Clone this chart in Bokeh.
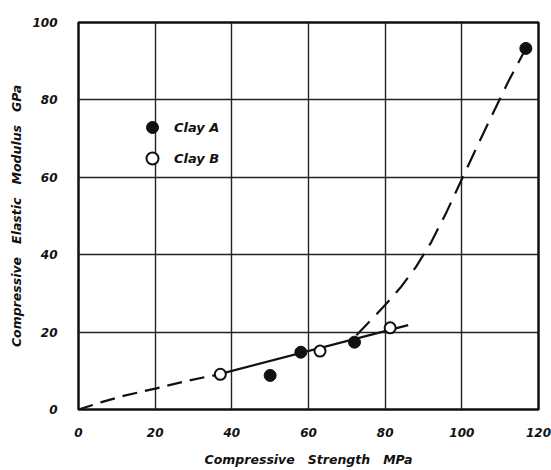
from bokeh.plotting import figure
from bokeh.models import FixedTicker, Range1d, Legend, LegendItem
from bokeh.embed import file_html
from bokeh.resources import INLINE

# ---- data ----
clay_a_x = [50, 58, 72, 116.7]
clay_a_y = [8.8, 14.8, 17.4, 93.3]
clay_b_x = [37, 63, 81.3]
clay_b_y = [9.1, 15.1, 21.1]

solid_x = [35, 86]
solid_y = [8.7, 21.8]

dash_low_x = [0, 6, 12, 20, 28, 35]
dash_low_y = [0, 1.9, 3.6, 5.4, 7.3, 8.8]

dash_up_x = [72.5, 76, 80, 84, 88, 92, 96, 100, 104, 108, 112, 116.7]
dash_up_y = [19.2, 22.8, 27.0, 31.5, 36.8, 43.2, 51.0, 59.5, 68.0, 76.3, 84.5, 93.3]

x_ticks = [0, 20, 40, 60, 80, 100, 120]
y_ticks = [0, 20, 40, 60, 80, 100]

FONT = "DejaVu Sans"
SP = "\u00a0\u00a0\u00a0"

p = figure(width=551, height=470, output_backend="svg", toolbar_location=None,
           x_range=Range1d(0, 120), y_range=Range1d(0, 100),
           min_border_left=78, min_border_right=13, min_border_top=22, min_border_bottom=61)

p.background_fill_color = "white"
p.border_fill_color = "white"
p.outline_line_color = "#111111"
p.outline_line_width = 2.5

for ax, ticks in ((p.xaxis, x_ticks), (p.yaxis, y_ticks)):
    ax.ticker = FixedTicker(ticks=ticks)
    ax.axis_line_color = None
    ax.major_tick_line_color = None
    ax.minor_tick_line_color = None
    ax.major_label_text_font = FONT
    ax.major_label_text_font_style = "bold italic"
    ax.major_label_text_font_size = "12px"
    ax.major_label_text_color = "#111111"
    ax.axis_label_text_font = FONT
    ax.axis_label_text_font_style = "bold italic"
    ax.axis_label_text_font_size = "12.5px"
    ax.axis_label_text_color = "#111111"

p.xaxis.major_label_standoff = 12
p.yaxis.major_label_standoff = 15
p.xaxis.axis_label = "Compressive" + SP + "Strength" + SP + "MPa"
p.yaxis.axis_label = "Compressive" + SP + "Elastic" + SP + "Modulus" + SP + "GPa"
p.xaxis.axis_label_standoff = 12
p.yaxis.axis_label_standoff = 5

p.xgrid.ticker = FixedTicker(ticks=x_ticks)
p.ygrid.ticker = FixedTicker(ticks=y_ticks)
for g in (p.xgrid, p.ygrid):
    g.grid_line_color = "#222222"
    g.grid_line_width = 1.4

# curves
p.line(dash_low_x, dash_low_y, line_color="#111111", line_width=2.2, line_dash="15 8")
p.line(dash_up_x, dash_up_y, line_color="#111111", line_width=2.2, line_dash="19 10")
p.line(solid_x, solid_y, line_color="#111111", line_width=2.2)

# points
ra = p.scatter(clay_a_x, clay_a_y, size=12, marker="circle",
               fill_color="#111111", line_color="#111111")
rb = p.scatter(clay_b_x, clay_b_y, size=11, marker="circle",
               fill_color="white", line_color="#111111", line_width=2)

legend = Legend(items=[LegendItem(label="Clay A", renderers=[ra]),
                       LegendItem(label="Clay B", renderers=[rb])],
                location=(59, 236), padding=0, margin=0, spacing=1,
                glyph_width=30, glyph_height=30, label_standoff=7,
                background_fill_alpha=0, border_line_color=None,
                label_text_font=FONT, label_text_font_style="bold italic",
                label_text_font_size="13px", label_text_color="#111111")
p.add_layout(legend)

open("out.html", "w").write(file_html(p, INLINE))
